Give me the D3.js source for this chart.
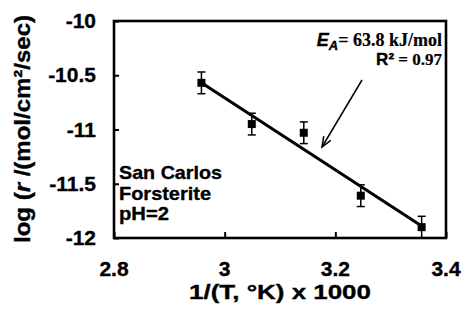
<!DOCTYPE html>
<html><head><meta charset="utf-8">
<script src="https://cdn.jsdelivr.net/npm/d3@7"></script>
<style>
html,body{margin:0;padding:0;background:#fff;}
text{font-family:"Liberation Sans",Arial,sans-serif;font-weight:bold;fill:#000;stroke:#000;stroke-width:0.35px;}
</style></head><body>
<svg id="c" width="465" height="324"></svg>
<script>
// data
const invT = [2.958, 3.049, 3.143, 3.246, 3.356];
const logRate = [-10.57, -10.95, -11.03, -11.61, -11.90];
const errBar = [0.10, 0.10, 0.10, 0.10, 0.10];
const fitX = [2.958, 3.356];
const fitY = [-10.57, -11.89];
const xTicks = [2.8, 3.0, 3.2, 3.4];
const xTickLabels = ["2.8", "3", "3.2", "3.4"];
const yTicks = [-10, -10.5, -11, -11.5, -12];
const yTickLabels = ["-10", "-10.5", "-11", "-11.5", "-12"];
const sampleLines = ["San Carlos", "Forsterite", "pH=2"];
const sampleWidths = [103, 92, 50];

const svg = d3.select("#c");
const L = 114, R = 446, T = 21, B = 238;
const x = d3.scaleLinear().domain([2.8, 3.4]).range([L, R]);
const y = d3.scaleLinear().domain([-12, -10]).range([B, T]);

// frame
svg.append("rect").attr("x", L).attr("y", T).attr("width", R - L).attr("height", B - T)
  .attr("fill", "none").attr("stroke", "#000").attr("stroke-width", 2.6);

// y ticks (inward)
const yAxis = d3.axisRight(y).tickValues(yTicks).tickSize(5).tickFormat("");
const gy = svg.append("g").attr("transform", `translate(${L},0)`).call(yAxis);
gy.select(".domain").remove();
gy.selectAll("line").attr("stroke", "#000").attr("stroke-width", 2);
svg.selectAll(".ylab").data(yTicks).enter().append("text")
  .attr("x", 96).attr("y", d => y(d) + 7).attr("text-anchor", "end")
  .attr("font-size", 21).text((d, i) => yTickLabels[i]);

// x ticks (inward)
const xAxis = d3.axisTop(x).tickValues(xTicks).tickSize(6).tickFormat("");
const gx = svg.append("g").attr("transform", `translate(0,${B})`).call(xAxis);
gx.select(".domain").remove();
gx.selectAll("line").attr("stroke", "#000").attr("stroke-width", 2);
svg.selectAll(".xlab").data(xTicks).enter().append("text")
  .attr("x", d => x(d)).attr("y", 276).attr("text-anchor", "middle")
  .attr("font-size", 21).text((d, i) => xTickLabels[i]);

// axis titles
svg.append("text").attr("x", 280).attr("y", 299).attr("text-anchor", "middle")
  .attr("font-size", 21).attr("textLength", 182).attr("lengthAdjust", "spacingAndGlyphs")
  .text("1/(T, °K) x 1000");
const yt = svg.append("text").attr("transform", "translate(30,129) rotate(-90)")
  .attr("text-anchor", "middle").attr("font-size", 22)
  .attr("textLength", 228).attr("lengthAdjust", "spacingAndGlyphs");
yt.append("tspan").text("log (");
yt.append("tspan").attr("font-style", "italic").text("r");
yt.append("tspan").text(" /(mol/cm²/sec)");

// fit line
svg.append("line").attr("x1", x(fitX[0])).attr("y1", y(fitY[0]))
  .attr("x2", x(fitX[1])).attr("y2", y(fitY[1]))
  .attr("stroke", "#000").attr("stroke-width", 3);

// error bars
const pts = invT.map((v, i) => ({x: v, y: logRate[i], e: errBar[i]}));
const eb = svg.append("g").attr("stroke", "#000").attr("stroke-width", 1.5);
pts.forEach(p => {
  const cx = x(p.x), y1 = y(p.y + p.e), y2 = y(p.y - p.e);
  eb.append("line").attr("x1", cx).attr("x2", cx).attr("y1", y1).attr("y2", y2);
  eb.append("line").attr("x1", cx - 4).attr("x2", cx + 4).attr("y1", y1).attr("y2", y1);
  eb.append("line").attr("x1", cx - 4).attr("x2", cx + 4).attr("y1", y2).attr("y2", y2);
});
// markers
svg.selectAll(".pt").data(pts).enter().append("rect")
  .attr("x", d => x(d.x) - 4).attr("y", d => y(d.y) - 4)
  .attr("width", 8).attr("height", 8).attr("fill", "#000");

// sample label
svg.selectAll(".samp").data(sampleLines).enter().append("text")
  .attr("x", 119).attr("y", (d, i) => 179 + i * 20.5)
  .attr("font-size", 19).attr("textLength", (d, i) => sampleWidths[i])
  .attr("lengthAdjust", "spacingAndGlyphs").text(d => d);

// annotation
const serif = "Liberation Serif,Times New Roman,serif";
const ea = svg.append("text").attr("x", 442).attr("y", 46).attr("text-anchor", "end").attr("font-size", 18);
ea.append("tspan").attr("font-style", "italic").text("E");
ea.append("tspan").attr("font-style", "italic").attr("font-size", 13).attr("dy", 4).text("A");
ea.append("tspan").attr("dy", -4).attr("font-family", serif).attr("stroke-width", 0.2).text("= 63.8 kJ/mol");
const r2 = svg.append("text").attr("x", 442).attr("y", 65).attr("text-anchor", "end").attr("font-size", 17);
r2.append("tspan").text("R²");
r2.append("tspan").attr("font-family", serif).attr("stroke-width", 0.2).text(" = 0.97");

// arrow
const ax1 = 362, ay1 = 80, ax2 = 322, ay2 = 147;
svg.append("line").attr("x1", ax1).attr("y1", ay1).attr("x2", ax2).attr("y2", ay2)
  .attr("stroke", "#000").attr("stroke-width", 1.5);
const ang = Math.atan2(ay2 - ay1, ax2 - ax1);
const hl = 11, ha = 0.38;
svg.append("path")
  .attr("d", `M${ax2 - hl * Math.cos(ang - ha)},${ay2 - hl * Math.sin(ang - ha)} L${ax2},${ay2} L${ax2 - hl * Math.cos(ang + ha)},${ay2 - hl * Math.sin(ang + ha)}`)
  .attr("fill", "none").attr("stroke", "#000").attr("stroke-width", 1.5);
</script></body></html>
